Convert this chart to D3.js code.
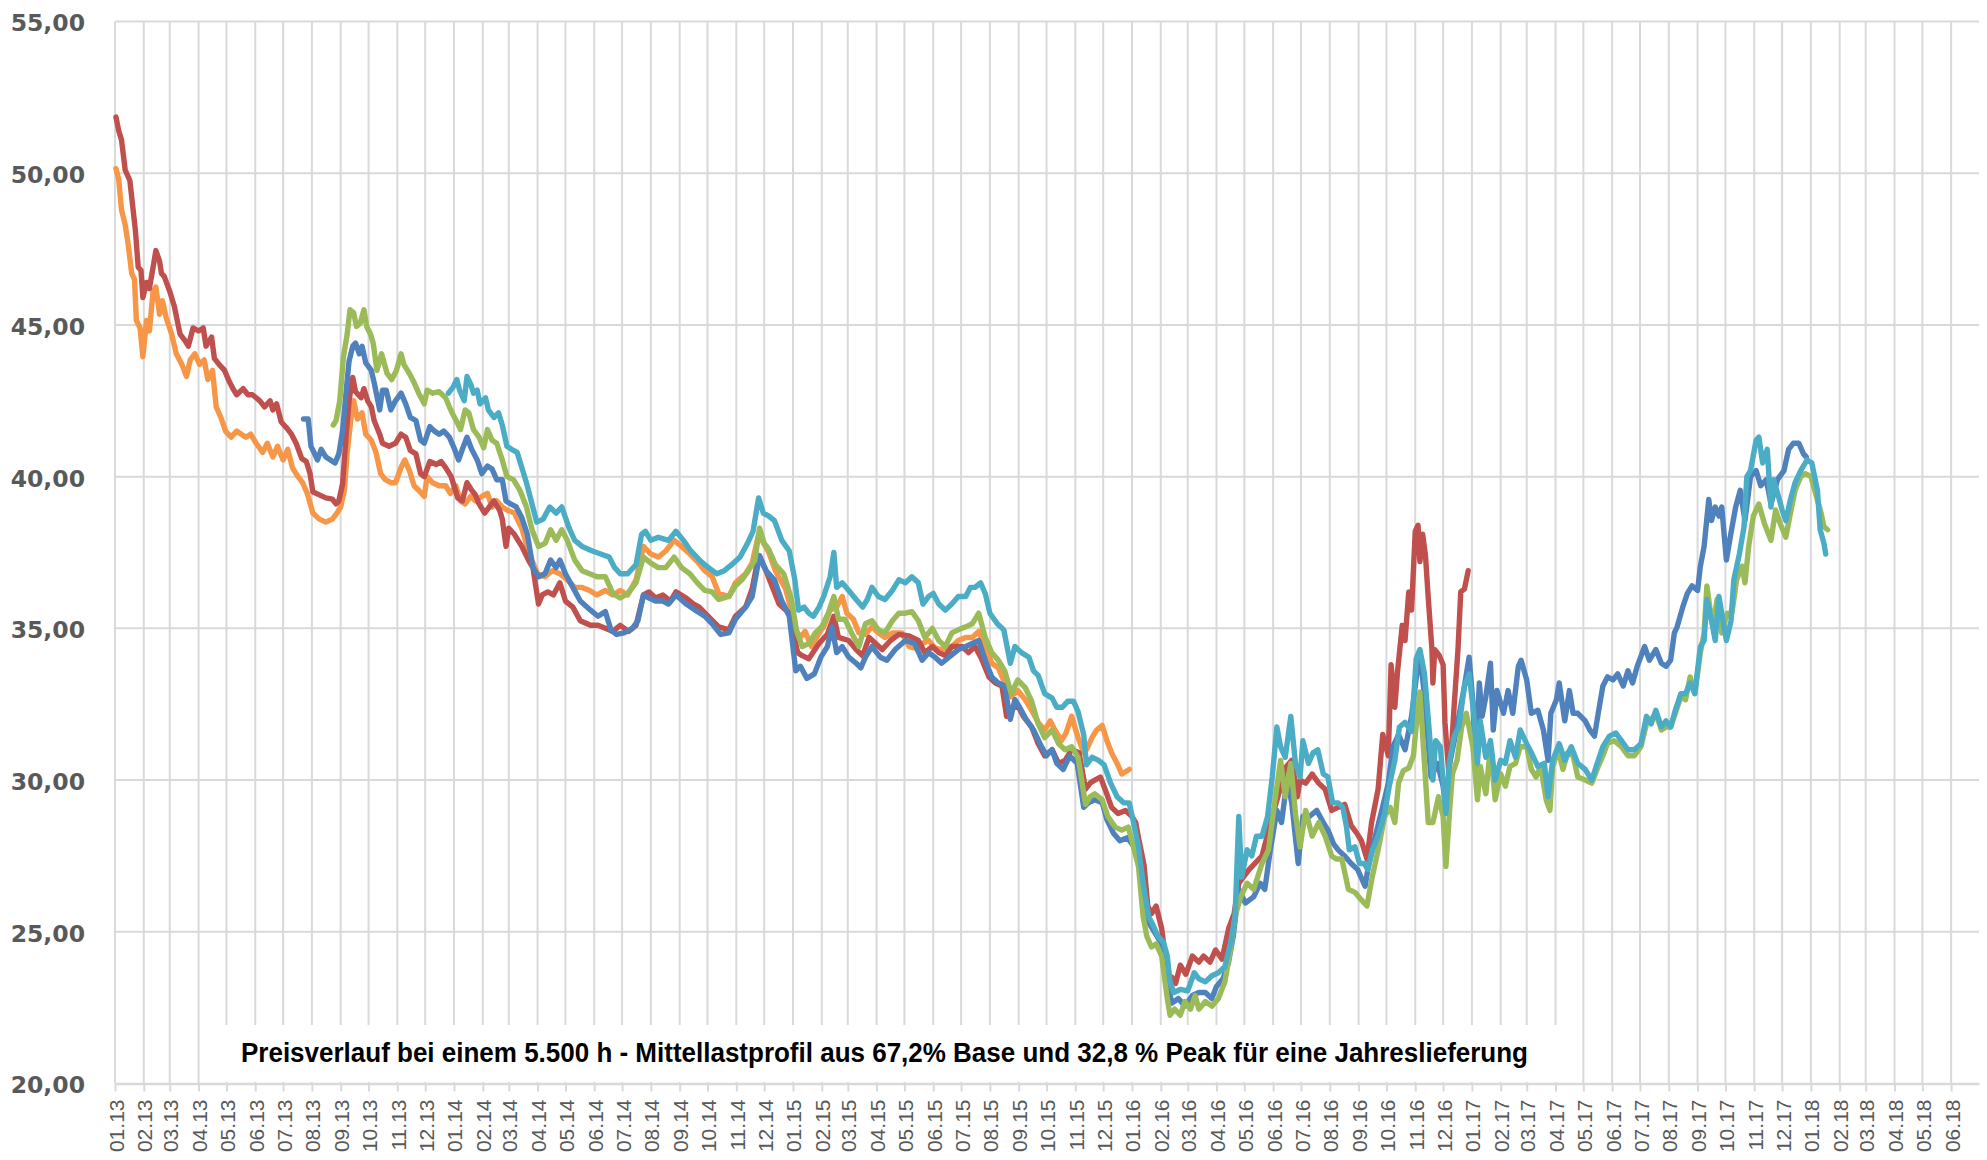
<!DOCTYPE html>
<html>
<head>
<meta charset="utf-8">
<script src="https://cdn.jsdelivr.net/npm/d3@7"></script>
<style>
    body { margin: 0; background: #fff; }
</style>
</head>
<body>
<script>
//y axis ticks
var yTicks = [20, 25, 30, 35, 40, 45, 50, 55];

//first and last month label of the x axis
var firstMonth = "2013-01-01",
    lastMonth = "2018-06-01",
    axisEnd = "2018-07-01";

var chartTitle = "Preisverlauf bei einem 5.500 h - Mittellastprofil aus 67,2% Base und 32,8 % Peak für eine Jahreslieferung";

//orange series
var orangeData = [
    ["2013-01-02",50.15],["2013-01-05",49.8],["2013-01-08",48.8],["2013-01-12",48.3],["2013-01-15",47.7],["2013-01-19",46.7],
    ["2013-01-22",46.5],["2013-01-24",45.15],["2013-01-28",44.9],["2013-01-31",43.95],["2013-02-04",45.15],["2013-02-07",44.8],
    ["2013-02-11",46.1],["2013-02-14",46.25],["2013-02-18",45.35],["2013-02-21",45.8],["2013-02-25",45.25],["2013-03-03",44.7],
    ["2013-03-08",44.05],["2013-03-14",43.7],["2013-03-19",43.3],["2013-03-23",43.85],["2013-03-28",44.05],["2013-04-02",43.7],
    ["2013-04-07",43.85],["2013-04-11",43.2],["2013-04-16",43.5],["2013-04-20",42.3],["2013-04-25",41.95],["2013-04-30",41.5],
    ["2013-05-06",41.3],["2013-05-12",41.5],["2013-05-17",41.4],["2013-05-22",41.3],["2013-05-27",41.4],["2013-06-02",41.1],
    ["2013-06-09",40.8],["2013-06-14",41.1],["2013-06-20",40.65],["2013-06-25",41.0],["2013-07-01",40.55],["2013-07-06",40.9],
    ["2013-07-11",40.3],["2013-07-17",40.0],["2013-07-22",39.8],["2013-07-27",39.45],["2013-08-02",38.8],["2013-08-09",38.6],
    ["2013-08-16",38.5],["2013-08-23",38.6],["2013-08-28",38.8],["2013-09-01",39.0],["2013-09-05",39.55],["2013-09-08",40.8],
    ["2013-09-12",41.9],["2013-09-15",42.5],["2013-09-19",41.9],["2013-09-24",42.1],["2013-09-28",41.4],["2013-10-04",41.2],
    ["2013-10-09",40.8],["2013-10-14",40.1],["2013-10-19",39.9],["2013-10-25",39.8],["2013-10-30",39.8],["2013-11-05",40.3],
    ["2013-11-09",40.55],["2013-11-14",40.2],["2013-11-19",39.7],["2013-11-24",39.55],["2013-11-30",39.35],["2013-12-03",40.0],
    ["2013-12-09",39.8],["2013-12-16",39.7],["2013-12-23",39.7],["2013-12-28",39.45],["2014-01-03",39.7],["2014-01-08",39.2],
    ["2014-01-13",39.1],["2014-01-19",39.35],["2014-01-24",39.2],["2014-01-31",39.35],["2014-02-06",39.45],["2014-02-11",39.0],
    ["2014-02-16",39.2],["2014-02-22",39.0],["2014-02-27",38.9],["2014-03-07",38.8],["2014-03-15",38.3],["2014-03-23",37.45],
    ["2014-04-01",36.8],["2014-04-09",36.7],["2014-04-17",36.9],["2014-04-25",36.8],["2014-05-03",36.6],["2014-05-11",36.35],
    ["2014-05-19",36.35],["2014-05-27",36.25],["2014-06-04",36.1],["2014-06-13",36.25],["2014-06-21",36.1],["2014-06-29",36.25],
    ["2014-07-07",36.1],["2014-07-16",36.6],["2014-07-24",37.7],["2014-08-01",37.45],["2014-08-09",37.35],["2014-08-17",37.55],
    ["2014-08-26",37.9],["2014-09-03",37.7],["2014-09-12",37.45],["2014-09-20",37.2],["2014-09-28",36.9],["2014-10-06",36.7],
    ["2014-10-13",36.15],["2014-10-24",36.05],["2014-10-31",36.5],["2014-11-11",36.8],["2014-11-18",37.15],["2014-11-25",38.1],
    ["2014-12-06",37.5],["2014-12-13",36.9],["2014-12-24",36.3],["2014-12-31",35.5],["2015-01-04",34.95],["2015-01-09",34.7],
    ["2015-01-14",34.9],["2015-01-21",34.4],["2015-01-29",34.85],["2015-02-03",35.05],["2015-02-10",35.6],["2015-02-17",35.7],
    ["2015-02-23",36.05],["2015-02-28",35.5],["2015-03-07",35.3],["2015-03-13",34.85],["2015-03-20",34.8],["2015-03-27",35.05],
    ["2015-04-03",34.85],["2015-04-10",34.7],["2015-04-18",34.85],["2015-04-28",34.85],["2015-05-06",34.4],["2015-05-13",34.35],
    ["2015-05-20",34.5],["2015-05-27",34.6],["2015-06-03",34.35],["2015-06-10",34.3],["2015-06-21",34.4],["2015-06-28",34.6],
    ["2015-07-06",34.7],["2015-07-13",34.7],["2015-07-20",34.9],["2015-07-27",34.4],["2015-08-03",33.85],["2015-08-10",33.7],
    ["2015-08-17",33.2],["2015-08-24",32.75],["2015-08-31",32.95],["2015-09-08",32.65],["2015-09-15",32.3],["2015-09-22",31.9],
    ["2015-09-29",31.65],["2015-10-05",31.95],["2015-10-10",31.65],["2015-10-17",31.3],["2015-10-22",31.55],["2015-10-28",32.1],
    ["2015-11-04",31.4],["2015-11-10",30.9],["2015-11-13",31.0],["2015-11-19",31.4],["2015-11-24",31.65],["2015-11-30",31.8],
    ["2015-12-05",31.3],["2015-12-10",30.9],["2015-12-16",30.55],["2015-12-21",30.2],["2015-12-29",30.35]
];

//red series
var redData = [
    ["2013-01-02",51.85],["2013-01-05",51.4],["2013-01-08",51.1],["2013-01-12",50.1],["2013-01-17",49.76],["2013-01-21",48.66],
    ["2013-01-23",48.1],["2013-01-26",46.9],["2013-01-29",46.8],["2013-01-31",45.9],["2013-02-04",46.4],["2013-02-07",46.2],
    ["2013-02-11",46.9],["2013-02-14",47.45],["2013-02-18",47.1],["2013-02-20",46.7],["2013-02-23",46.6],["2013-03-01",46.1],
    ["2013-03-06",45.6],["2013-03-12",44.7],["2013-03-17",44.5],["2013-03-21",44.3],["2013-03-26",44.9],["2013-04-01",44.8],
    ["2013-04-06",44.9],["2013-04-09",44.3],["2013-04-15",44.6],["2013-04-18",43.9],["2013-04-23",43.7],["2013-04-29",43.5],
    ["2013-05-03",43.2],["2013-05-08",42.9],["2013-05-12",42.7],["2013-05-19",42.9],["2013-05-24",42.7],["2013-05-29",42.7],
    ["2013-06-06",42.5],["2013-06-11",42.3],["2013-06-17",42.5],["2013-06-20",42.2],["2013-06-24",42.4],["2013-06-29",41.8],
    ["2013-07-05",41.6],["2013-07-10",41.4],["2013-07-15",41.1],["2013-07-21",40.6],["2013-07-26",40.5],["2013-07-30",40.1],
    ["2013-08-02",39.5],["2013-08-09",39.4],["2013-08-16",39.3],["2013-08-23",39.26],["2013-08-27",39.1],["2013-08-30",39.2],
    ["2013-09-03",39.76],["2013-09-07",41.4],["2013-09-10",42.5],["2013-09-14",43.27],["2013-09-17",42.8],["2013-09-23",42.6],
    ["2013-09-26",42.9],["2013-09-30",42.5],["2013-10-04",42.3],["2013-10-07",41.85],["2013-10-13",41.4],["2013-10-16",41.1],
    ["2013-10-23",41.0],["2013-10-30",41.1],["2013-11-05",41.4],["2013-11-10",41.3],["2013-11-15",40.86],["2013-11-21",40.75],
    ["2013-11-26",40.1],["2013-11-30",40.0],["2013-12-06",40.5],["2013-12-13",40.4],["2013-12-18",40.5],["2013-12-23",40.3],
    ["2013-12-29",40.0],["2014-01-05",39.3],["2014-01-10",39.2],["2014-01-15",39.8],["2014-01-19",39.6],["2014-01-24",39.4],
    ["2014-01-28",39.1],["2014-02-03",38.8],["2014-02-08",39.0],["2014-02-13",39.2],["2014-02-19",38.9],["2014-02-22",38.6],
    ["2014-02-26",37.7],["2014-03-01",38.3],["2014-03-07",38.1],["2014-03-15",37.7],["2014-03-23",37.2],["2014-03-27",37.0],
    ["2014-04-02",35.8],["2014-04-06",36.1],["2014-04-12",36.2],["2014-04-18",36.1],["2014-04-25",36.5],["2014-05-01",35.9],
    ["2014-05-09",35.7],["2014-05-17",35.25],["2014-05-28",35.1],["2014-06-05",35.1],["2014-06-13",35.0],["2014-06-21",34.9],
    ["2014-06-29",35.1],["2014-07-08",34.9],["2014-07-16",35.1],["2014-07-24",36.1],["2014-07-30",36.2],["2014-08-06",36.0],
    ["2014-08-14",36.1],["2014-08-22",35.9],["2014-08-28",36.2],["2014-09-08",36.0],["2014-09-16",35.8],["2014-09-22",35.7],
    ["2014-10-13",35.05],["2014-10-24",34.95],["2014-10-31",35.4],["2014-11-11",35.7],["2014-11-18",36.3],["2014-11-25",37.4],
    ["2014-12-03",36.9],["2014-12-17",35.8],["2014-12-28",35.5],["2015-01-06",34.2],["2015-01-11",34.1],["2015-01-18",34.0],
    ["2015-01-29",34.5],["2015-02-07",34.8],["2015-02-14",35.4],["2015-02-19",34.7],["2015-03-02",34.6],["2015-03-10",34.3],
    ["2015-03-17",34.1],["2015-03-24",34.7],["2015-04-07",34.3],["2015-04-16",34.6],["2015-04-25",34.8],["2015-05-06",34.75],
    ["2015-05-16",34.6],["2015-05-23",34.2],["2015-05-31",34.4],["2015-06-07",34.2],["2015-06-14",34.1],["2015-06-21",34.4],
    ["2015-07-02",34.4],["2015-07-09",34.2],["2015-07-16",34.4],["2015-07-23",34.0],["2015-07-31",33.4],["2015-08-07",33.2],
    ["2015-08-14",33.1],["2015-08-19",32.1],["2015-08-25",32.4],["2015-09-01",32.4],["2015-09-06",32.1],["2015-09-15",31.75],
    ["2015-09-22",31.2],["2015-09-29",30.8],["2015-10-07",31.0],["2015-10-14",30.55],["2015-10-21",30.65],["2015-10-28",31.0],
    ["2015-11-05",30.9],["2015-11-12",29.7],["2015-11-17",29.9],["2015-11-22",30.0],["2015-11-28",30.1],["2015-12-03",29.7],
    ["2015-12-10",29.1],["2015-12-17",28.9],["2015-12-25",29.0],["2016-01-01",28.8],["2016-01-05",28.6],["2016-01-08",28.1],
    ["2016-01-14",27.2],["2016-01-18",25.85],["2016-01-22",25.6],["2016-01-27",25.85],["2016-02-02",25.1],["2016-02-05",24.4],
    ["2016-02-09",23.4],["2016-02-13",23.5],["2016-02-17",23.3],["2016-02-22",23.9],["2016-02-28",23.6],["2016-03-06",24.2],
    ["2016-03-13",24.0],["2016-03-18",24.2],["2016-03-25",24.0],["2016-03-31",24.4],["2016-04-07",24.1],["2016-04-14",25.1],
    ["2016-04-20",25.6],["2016-04-25",26.6],["2016-05-06",27.05],["2016-05-20",27.5],["2016-05-31",28.8],["2016-06-07",29.55],
    ["2016-06-14",30.4],["2016-06-21",30.65],["2016-06-27",29.45],["2016-06-30",30.0],["2016-07-06",29.9],["2016-07-13",30.2],
    ["2016-07-20",29.9],["2016-07-27",29.7],["2016-08-03",29.0],["2016-08-10",29.1],["2016-08-17",29.2],["2016-08-24",28.5],
    ["2016-08-30",28.25],["2016-09-04",28.0],["2016-09-10",27.4],["2016-09-15",28.6],["2016-09-22",29.7],["2016-09-27",31.5],
    ["2016-10-03",30.8],["2016-10-06",33.8],["2016-10-10",32.4],["2016-10-13",33.6],["2016-10-18",35.1],["2016-10-21",34.6],
    ["2016-10-25",36.2],["2016-10-28",35.6],["2016-11-01",38.2],["2016-11-04",38.4],["2016-11-06",37.2],["2016-11-09",38.1],
    ["2016-11-12",37.4],["2016-11-15",36.0],["2016-11-19",34.3],["2016-11-20",33.2],["2016-11-22",34.3],["2016-11-27",34.1],
    ["2016-12-01",33.8],["2016-12-03",31.9],["2016-12-07",30.3],["2016-12-10",31.0],["2016-12-13",32.5],["2016-12-17",34.3],
    ["2016-12-20",36.2],["2016-12-24",36.3],["2016-12-28",36.9]
];

//blue series
var blueData = [
    ["2013-07-23",41.9],["2013-07-28",41.9],["2013-07-31",41.0],["2013-08-04",40.75],["2013-08-07",40.55],["2013-08-11",40.9],
    ["2013-08-16",40.65],["2013-08-21",40.55],["2013-08-26",40.45],["2013-08-30",40.75],["2013-09-03",41.5],["2013-09-07",42.85],
    ["2013-09-10",43.8],["2013-09-14",44.3],["2013-09-17",44.4],["2013-09-21",44.05],["2013-09-24",44.3],["2013-09-28",43.75],
    ["2013-10-04",43.5],["2013-10-07",43.1],["2013-10-13",42.2],["2013-10-16",42.85],["2013-10-20",42.85],["2013-10-25",42.2],
    ["2013-10-30",42.5],["2013-11-05",42.75],["2013-11-10",42.4],["2013-11-15",41.95],["2013-11-21",41.85],["2013-11-26",41.2],
    ["2013-11-30",41.1],["2013-12-06",41.65],["2013-12-11",41.5],["2013-12-16",41.4],["2013-12-21",41.5],["2013-12-27",41.3],
    ["2014-01-01",40.95],["2014-01-06",40.55],["2014-01-10",40.9],["2014-01-15",41.3],["2014-01-20",40.9],["2014-01-26",40.55],
    ["2014-01-31",40.1],["2014-02-06",40.35],["2014-02-11",40.25],["2014-02-16",39.9],["2014-02-22",39.9],["2014-02-26",39.2],
    ["2014-03-03",39.1],["2014-03-09",39.0],["2014-03-15",38.65],["2014-03-21",38.1],["2014-03-27",37.0],["2014-04-02",36.7],
    ["2014-04-09",36.8],["2014-04-15",37.25],["2014-04-21",37.0],["2014-04-25",37.25],["2014-05-01",36.8],["2014-05-09",36.35],
    ["2014-05-17",35.9],["2014-05-28",35.6],["2014-06-05",35.4],["2014-06-13",35.55],["2014-06-19",34.95],["2014-06-25",34.8],
    ["2014-07-03",34.85],["2014-07-12",35.0],["2014-07-18",35.25],["2014-07-24",36.1],["2014-07-30",36.0],["2014-08-06",35.9],
    ["2014-08-14",35.9],["2014-08-20",35.8],["2014-08-28",36.1],["2014-09-08",35.8],["2014-09-18",35.6],["2014-09-28",35.4],
    ["2014-10-06",35.15],["2014-10-15",34.8],["2014-10-24",34.85],["2014-10-31",35.3],["2014-11-11",35.7],["2014-11-18",36.05],
    ["2014-11-26",37.4],["2014-12-03",36.9],["2014-12-12",36.6],["2014-12-20",35.9],["2014-12-28",35.4],["2015-01-04",33.6],
    ["2015-01-09",33.75],["2015-01-16",33.35],["2015-01-24",33.5],["2015-01-31",34.05],["2015-02-07",34.4],["2015-02-12",35.05],
    ["2015-02-17",34.2],["2015-02-23",34.4],["2015-03-02",34.05],["2015-03-10",33.85],["2015-03-15",33.7],["2015-03-20",34.05],
    ["2015-03-27",34.4],["2015-04-05",34.05],["2015-04-12",33.95],["2015-04-21",34.3],["2015-05-02",34.6],["2015-05-12",34.5],
    ["2015-05-20",33.95],["2015-05-27",34.2],["2015-06-03",34.05],["2015-06-10",33.85],["2015-06-18",34.05],["2015-06-28",34.3],
    ["2015-07-06",34.4],["2015-07-13",34.5],["2015-07-20",34.6],["2015-07-27",33.95],["2015-08-03",33.4],["2015-08-10",33.2],
    ["2015-08-17",33.1],["2015-08-23",32.0],["2015-08-28",32.65],["2015-09-02",32.4],["2015-09-09",32.0],["2015-09-17",31.65],
    ["2015-09-24",31.2],["2015-10-01",30.8],["2015-10-07",31.0],["2015-10-12",30.55],["2015-10-19",30.35],["2015-10-26",30.8],
    ["2015-11-03",30.55],["2015-11-10",29.1],["2015-11-15",29.25],["2015-11-22",29.35],["2015-11-30",29.25],["2015-12-05",28.7],
    ["2015-12-12",28.25],["2015-12-19",28.0],["2015-12-27",28.1],["2016-01-01",27.9],["2016-01-08",27.5],["2016-01-13",26.6],
    ["2016-01-19",25.3],["2016-01-26",24.95],["2016-02-02",24.6],["2016-02-08",23.3],["2016-02-13",22.65],["2016-02-20",22.8],
    ["2016-02-27",22.55],["2016-03-06",22.9],["2016-03-13",23.0],["2016-03-20",23.0],["2016-03-27",22.8],["2016-04-01",23.2],
    ["2016-04-08",23.45],["2016-04-14",24.0],["2016-04-19",24.85],["2016-04-25",26.4],["2016-05-02",25.95],["2016-05-11",26.15],
    ["2016-05-18",26.6],["2016-05-23",26.4],["2016-05-29",27.7],["2016-06-05",29.0],["2016-06-10",28.6],["2016-06-16",30.0],
    ["2016-06-21",29.25],["2016-06-28",27.25],["2016-07-03",28.8],["2016-07-10",28.8],["2016-07-18",29.0],["2016-07-25",28.6],
    ["2016-07-30",28.35],["2016-08-05",27.9],["2016-08-10",27.7],["2016-08-17",27.5],["2016-08-24",27.25],["2016-08-31",27.05],
    ["2016-09-08",26.5],["2016-09-12",27.25],["2016-09-19",28.15],["2016-09-26",29.0],["2016-10-03",29.9],["2016-10-08",31.1],
    ["2016-10-14",31.5],["2016-10-21",31.0],["2016-10-28",32.1],["2016-11-03",33.6],["2016-11-06",34.2],["2016-11-11",32.75],
    ["2016-11-15",31.2],["2016-11-18",30.1],["2016-11-25",30.55],["2016-12-01",29.8],["2016-12-04",29.0],["2016-12-08",30.55],
    ["2016-12-13",31.3],["2016-12-18",32.1],["2016-12-24",33.1],["2016-12-29",34.05],["2017-01-02",32.6],["2017-01-05",30.45],
    ["2017-01-09",33.2],["2017-01-12",32.1],["2017-01-16",32.75],["2017-01-21",33.85],["2017-01-24",31.65],["2017-01-28",32.95],
    ["2017-02-04",32.2],["2017-02-09",32.95],["2017-02-14",32.2],["2017-02-20",33.75],["2017-02-23",33.95],["2017-03-01",33.3],
    ["2017-03-06",32.2],["2017-03-13",32.3],["2017-03-19",31.65],["2017-03-24",30.65],["2017-03-27",32.2],["2017-04-02",32.65],
    ["2017-04-05",33.2],["2017-04-11",31.95],["2017-04-16",32.95],["2017-04-20",32.2],["2017-04-25",32.2],["2017-05-03",31.95],
    ["2017-05-08",31.65],["2017-05-13",31.45],["2017-05-17",32.2],["2017-05-22",33.1],["2017-05-27",33.4],["2017-06-02",33.3],
    ["2017-06-07",33.5],["2017-06-13",33.1],["2017-06-18",33.6],["2017-06-23",33.2],["2017-06-28",33.75],["2017-07-06",34.4],
    ["2017-07-11",33.95],["2017-07-18",34.3],["2017-07-24",33.85],["2017-07-29",33.75],["2017-08-03",33.95],["2017-08-07",34.85],
    ["2017-08-10",35.05],["2017-08-16",35.7],["2017-08-21",36.15],["2017-08-26",36.4],["2017-09-01",36.25],["2017-09-04",37.05],
    ["2017-09-08",37.7],["2017-09-13",39.25],["2017-09-16",38.55],["2017-09-20",39.0],["2017-09-24",38.7],["2017-09-27",39.0],
    ["2017-10-02",37.25],["2017-10-07",38.15],["2017-10-12",39.0],["2017-10-17",39.55],["2017-10-22",38.55],["2017-10-28",40.0],
    ["2017-11-03",40.2],["2017-11-08",39.7],["2017-11-14",39.9],["2017-11-19",39.1],["2017-11-26",39.9],["2017-12-03",40.2],
    ["2017-12-08",40.9],["2017-12-13",41.1],["2017-12-19",41.1],["2017-12-24",40.75],["2017-12-27",40.65]
];

//green series
var greenData = [
    ["2013-08-24",41.7],["2013-08-27",41.85],["2013-08-31",42.5],["2013-09-04",43.95],["2013-09-08",44.7],["2013-09-11",45.5],
    ["2013-09-15",45.4],["2013-09-18",44.95],["2013-09-22",45.05],["2013-09-26",45.5],["2013-09-29",44.95],["2013-10-03",44.7],
    ["2013-10-06",44.4],["2013-10-10",43.5],["2013-10-15",44.05],["2013-10-21",43.4],["2013-10-26",43.2],["2013-10-31",43.5],
    ["2013-11-05",44.05],["2013-11-08",43.7],["2013-11-14",43.4],["2013-11-19",43.1],["2013-11-24",42.75],["2013-11-30",42.4],
    ["2013-12-03",42.85],["2013-12-09",42.75],["2013-12-16",42.8],["2013-12-23",42.6],["2013-12-27",42.3],["2013-12-30",42.1],
    ["2014-01-05",41.75],["2014-01-08",41.55],["2014-01-13",42.2],["2014-01-17",42.1],["2014-01-22",41.55],["2014-01-28",41.3],
    ["2014-02-02",40.95],["2014-02-06",41.55],["2014-02-11",41.2],["2014-02-16",41.1],["2014-02-22",40.55],["2014-02-27",40.0],
    ["2014-03-06",39.9],["2014-03-13",39.55],["2014-03-20",39.0],["2014-03-26",38.25],["2014-04-02",37.7],["2014-04-09",37.8],
    ["2014-04-15",38.25],["2014-04-21",37.9],["2014-04-27",38.25],["2014-05-03",37.9],["2014-05-11",37.25],["2014-05-19",36.9],
    ["2014-05-27",36.8],["2014-06-04",36.7],["2014-06-13",36.7],["2014-06-21",36.15],["2014-06-29",36.0],["2014-07-07",36.15],
    ["2014-07-16",36.5],["2014-07-24",37.35],["2014-08-01",37.15],["2014-08-09",37.0],["2014-08-17",37.0],["2014-08-26",37.35],
    ["2014-09-03",37.0],["2014-09-12",36.8],["2014-09-20",36.5],["2014-09-28",36.25],["2014-10-06",36.2],["2014-10-13",35.95],
    ["2014-10-24",36.05],["2014-10-31",36.4],["2014-11-07",36.6],["2014-11-14",36.9],["2014-11-21",37.25],["2014-11-26",38.3],
    ["2014-12-01",37.8],["2014-12-06",37.6],["2014-12-13",37.1],["2014-12-22",36.8],["2014-12-30",36.0],["2015-01-05",34.9],
    ["2015-01-11",34.4],["2015-01-18",34.5],["2015-01-25",34.85],["2015-02-01",35.05],["2015-02-08",35.5],["2015-02-14",36.05],
    ["2015-02-19",35.3],["2015-02-26",35.3],["2015-03-05",34.85],["2015-03-13",34.4],["2015-03-20",35.15],["2015-03-27",35.25],
    ["2015-04-03",34.95],["2015-04-10",34.85],["2015-04-18",35.25],["2015-04-25",35.5],["2015-05-02",35.5],["2015-05-09",35.55],
    ["2015-05-16",35.25],["2015-05-23",34.7],["2015-05-31",35.0],["2015-06-07",34.6],["2015-06-14",34.4],["2015-06-21",34.85],
    ["2015-06-28",34.95],["2015-07-06",35.05],["2015-07-13",35.15],["2015-07-20",35.5],["2015-07-27",34.7],["2015-08-03",34.2],
    ["2015-08-10",33.95],["2015-08-17",33.6],["2015-08-24",32.85],["2015-08-31",33.3],["2015-09-08",33.05],["2015-09-15",32.6],
    ["2015-09-22",31.85],["2015-09-29",31.4],["2015-10-07",31.65],["2015-10-14",31.2],["2015-10-21",31.0],["2015-10-28",31.1],
    ["2015-11-04",30.75],["2015-11-12",29.2],["2015-11-17",29.45],["2015-11-22",29.55],["2015-11-30",29.35],["2015-12-06",28.8],
    ["2015-12-14",28.45],["2015-12-21",28.35],["2015-12-28",28.45],["2016-01-01",28.0],["2016-01-08",27.15],["2016-01-13",25.5],
    ["2016-01-17",24.85],["2016-01-22",24.5],["2016-01-27",24.6],["2016-02-02",24.2],["2016-02-08",22.8],["2016-02-11",22.25],
    ["2016-02-16",22.45],["2016-02-22",22.25],["2016-02-27",22.7],["2016-03-04",22.45],["2016-03-09",22.9],["2016-03-13",22.45],
    ["2016-03-20",22.7],["2016-03-27",22.55],["2016-04-03",22.8],["2016-04-10",23.35],["2016-04-16",24.4],["2016-04-21",25.5],
    ["2016-04-27",26.15],["2016-05-04",26.6],["2016-05-11",26.4],["2016-05-20",27.25],["2016-05-27",27.7],["2016-06-03",29.35],
    ["2016-06-09",30.65],["2016-06-14",29.45],["2016-06-20",30.55],["2016-06-25",28.9],["2016-06-30",27.8],["2016-07-06",29.0],
    ["2016-07-13",28.15],["2016-07-20",28.6],["2016-07-27",28.15],["2016-08-03",27.5],["2016-08-08",27.4],["2016-08-14",27.4],
    ["2016-08-21",26.4],["2016-08-28",26.3],["2016-09-04",26.05],["2016-09-10",25.85],["2016-09-15",26.7],["2016-09-22",27.7],
    ["2016-09-29",28.8],["2016-10-05",29.1],["2016-10-10",28.6],["2016-10-14",29.9],["2016-10-19",30.3],["2016-10-25",30.4],
    ["2016-10-30",30.8],["2016-11-03",32.1],["2016-11-06",32.9],["2016-11-10",31.0],["2016-11-15",28.6],["2016-11-20",28.6],
    ["2016-11-26",29.45],["2016-12-01",28.8],["2016-12-04",27.15],["2016-12-08",29.0],["2016-12-11",30.2],["2016-12-16",30.65],
    ["2016-12-21",31.75],["2016-12-26",32.2],["2017-01-02",31.1],["2017-01-07",29.35],["2017-01-10",30.45],["2017-01-16",29.55],
    ["2017-01-21",31.1],["2017-01-26",29.35],["2017-02-01",30.2],["2017-02-06",29.8],["2017-02-11",30.45],["2017-02-17",30.55],
    ["2017-02-22",31.1],["2017-03-01",31.1],["2017-03-06",30.35],["2017-03-11",30.1],["2017-03-16",30.45],["2017-03-22",29.35],
    ["2017-03-26",29.0],["2017-03-29",30.45],["2017-04-04",31.0],["2017-04-09",30.35],["2017-04-14",30.9],["2017-04-20",30.8],
    ["2017-04-25",30.1],["2017-05-03",30.0],["2017-05-10",29.9],["2017-05-17",30.45],["2017-05-22",30.8],["2017-05-27",31.2],
    ["2017-06-03",31.3],["2017-06-11",31.1],["2017-06-18",30.8],["2017-06-25",30.8],["2017-07-02",31.1],["2017-07-08",31.85],
    ["2017-07-13",32.0],["2017-07-18",32.2],["2017-07-24",31.65],["2017-07-29",31.75],["2017-08-03",31.75],["2017-08-08",32.2],
    ["2017-08-14",32.75],["2017-08-19",32.65],["2017-08-24",33.4],["2017-08-29",32.85],["2017-09-04",34.2],["2017-09-08",34.85],
    ["2017-09-11",36.4],["2017-09-15",35.5],["2017-09-18",35.15],["2017-09-22",35.95],["2017-09-27",34.85],["2017-10-03",35.5],
    ["2017-10-08",35.5],["2017-10-13",36.6],["2017-10-19",37.05],["2017-10-22",36.5],["2017-10-26",37.7],["2017-10-31",38.7],
    ["2017-11-06",39.1],["2017-11-12",38.45],["2017-11-19",37.9],["2017-11-24",38.9],["2017-11-29",38.45],["2017-12-05",38.0],
    ["2017-12-10",38.8],["2017-12-15",39.55],["2017-12-21",40.0],["2017-12-26",40.1],["2018-01-01",40.0],["2018-01-06",39.45],
    ["2018-01-12",38.8],["2018-01-15",38.35],["2018-01-19",38.25]
];

//cyan series
var cyanData = [
    ["2013-12-26",42.75],["2013-12-31",42.95],["2014-01-04",43.2],["2014-01-07",42.85],["2014-01-12",42.5],["2014-01-15",43.3],
    ["2014-01-19",43.05],["2014-01-22",42.75],["2014-01-26",42.85],["2014-01-29",42.4],["2014-02-04",42.6],["2014-02-07",42.2],
    ["2014-02-13",41.95],["2014-02-18",42.1],["2014-02-22",41.7],["2014-02-27",41.0],["2014-03-04",40.9],["2014-03-10",40.8],
    ["2014-03-15",40.3],["2014-03-20",39.8],["2014-03-26",39.1],["2014-03-31",38.5],["2014-04-07",38.6],["2014-04-14",39.0],
    ["2014-04-21",38.8],["2014-04-27",39.0],["2014-05-05",38.3],["2014-05-11",37.9],["2014-05-19",37.7],["2014-05-30",37.55],
    ["2014-06-08",37.45],["2014-06-17",37.35],["2014-06-23",37.0],["2014-06-29",36.8],["2014-07-07",36.8],["2014-07-16",37.1],
    ["2014-07-22",38.1],["2014-07-26",38.2],["2014-08-01",37.9],["2014-08-09",38.0],["2014-08-20",37.9],["2014-08-28",38.2],
    ["2014-09-05",37.9],["2014-09-13",37.55],["2014-09-24",37.2],["2014-10-02",37.0],["2014-10-11",36.8],["2014-10-19",36.9],
    ["2014-10-27",37.1],["2014-11-05",37.35],["2014-11-13",37.8],["2014-11-19",38.2],["2014-11-25",39.3],["2014-11-30",38.8],
    ["2014-12-06",38.7],["2014-12-12",38.55],["2014-12-20",37.9],["2014-12-28",37.55],["2015-01-03",36.6],["2015-01-07",35.6],
    ["2015-01-13",35.7],["2015-01-18",35.5],["2015-01-23",35.4],["2015-01-29",35.7],["2015-02-03",36.05],["2015-02-10",36.7],
    ["2015-02-14",37.5],["2015-02-17",36.35],["2015-02-23",36.5],["2015-03-02",36.25],["2015-03-10",35.95],["2015-03-17",35.7],
    ["2015-03-22",35.95],["2015-03-27",36.35],["2015-04-03",36.05],["2015-04-10",35.95],["2015-04-18",36.25],["2015-04-25",36.6],
    ["2015-05-02",36.5],["2015-05-09",36.7],["2015-05-16",36.5],["2015-05-21",35.8],["2015-05-27",36.05],["2015-06-01",36.15],
    ["2015-06-07",35.8],["2015-06-14",35.6],["2015-06-21",35.8],["2015-06-28",36.05],["2015-07-06",36.05],["2015-07-11",36.35],
    ["2015-07-16",36.35],["2015-07-22",36.5],["2015-07-27",36.15],["2015-08-01",35.5],["2015-08-09",35.15],["2015-08-16",34.95],
    ["2015-08-23",33.85],["2015-08-28",34.4],["2015-09-04",34.2],["2015-09-12",34.05],["2015-09-17",33.6],["2015-09-22",33.45],
    ["2015-09-29",32.85],["2015-10-07",32.7],["2015-10-12",32.4],["2015-10-18",32.4],["2015-10-24",32.6],["2015-10-30",32.6],
    ["2015-11-04",32.25],["2015-11-10",31.5],["2015-11-13",30.5],["2015-11-19",30.75],["2015-11-26",30.65],["2015-12-02",30.5],
    ["2015-12-09",29.9],["2015-12-16",29.45],["2015-12-23",29.25],["2015-12-29",29.25],["2016-01-02",28.7],["2016-01-08",27.8],
    ["2016-01-13",26.6],["2016-01-19",25.5],["2016-01-24",25.2],["2016-01-29",24.85],["2016-02-04",24.65],["2016-02-08",24.2],
    ["2016-02-11",23.35],["2016-02-15",23.0],["2016-02-22",23.1],["2016-03-01",23.05],["2016-03-08",23.65],["2016-03-13",23.45],
    ["2016-03-20",23.35],["2016-03-27",23.55],["2016-04-03",23.65],["2016-04-10",23.85],["2016-04-16",24.6],["2016-04-21",25.5],
    ["2016-04-25",28.8],["2016-04-28",26.8],["2016-05-04",27.7],["2016-05-09",27.5],["2016-05-14",28.15],["2016-05-20",28.15],
    ["2016-05-26",28.8],["2016-05-31",30.1],["2016-06-05",31.75],["2016-06-09",31.1],["2016-06-14",30.75],["2016-06-20",32.1],
    ["2016-06-25",30.55],["2016-06-30",30.1],["2016-07-03",31.3],["2016-07-09",30.55],["2016-07-14",30.9],["2016-07-19",31.0],
    ["2016-07-25",30.2],["2016-07-30",30.1],["2016-08-04",29.25],["2016-08-10",29.25],["2016-08-15",29.1],["2016-08-19",28.45],
    ["2016-08-22",27.7],["2016-08-28",27.8],["2016-09-02",27.25],["2016-09-07",27.25],["2016-09-11",27.05],["2016-09-16",27.7],
    ["2016-09-22",28.15],["2016-09-29",28.9],["2016-10-04",29.8],["2016-10-10",30.65],["2016-10-15",31.75],["2016-10-21",31.9],
    ["2016-10-28",31.6],["2016-11-02",34.0],["2016-11-06",34.3],["2016-11-11",33.5],["2016-11-16",31.65],["2016-11-20",30.0],
    ["2016-11-23",31.3],["2016-11-28",31.1],["2016-12-04",28.9],["2016-12-08",30.65],["2016-12-13",31.45],["2016-12-18",31.75],
    ["2016-12-24",33.1],["2016-12-29",33.5],["2017-01-03",32.2],["2017-01-07",30.55],["2017-01-10",31.95],["2017-01-16",30.75],
    ["2017-01-21",31.3],["2017-01-26",30.0],["2017-02-01",30.65],["2017-02-06",30.55],["2017-02-11",31.3],["2017-02-17",30.75],
    ["2017-02-22",31.65],["2017-03-01",31.2],["2017-03-06",30.9],["2017-03-13",30.45],["2017-03-20",30.55],["2017-03-24",29.45],
    ["2017-03-29",30.65],["2017-04-05",31.2],["2017-04-11",30.65],["2017-04-18",31.1],["2017-04-25",30.55],["2017-05-03",30.35],
    ["2017-05-10",30.0],["2017-05-17",30.65],["2017-05-22",31.1],["2017-05-29",31.45],["2017-06-05",31.55],["2017-06-11",31.3],
    ["2017-06-18",31.0],["2017-06-25",31.0],["2017-07-02",31.2],["2017-07-08",32.1],["2017-07-13",31.85],["2017-07-18",32.3],
    ["2017-07-24",31.75],["2017-07-29",31.95],["2017-08-03",31.75],["2017-08-08",32.3],["2017-08-14",32.85],["2017-08-19",32.85],
    ["2017-08-24",33.2],["2017-08-29",32.85],["2017-09-04",34.4],["2017-09-08",34.6],["2017-09-11",35.95],["2017-09-16",35.25],
    ["2017-09-20",34.6],["2017-09-24",36.05],["2017-09-27",35.5],["2017-10-02",34.6],["2017-10-07",35.25],["2017-10-10",36.6],
    ["2017-10-16",37.45],["2017-10-21",38.35],["2017-10-24",40.0],["2017-10-28",40.2],["2017-11-03",41.2],["2017-11-06",41.3],
    ["2017-11-10",40.45],["2017-11-15",40.9],["2017-11-19",39.0],["2017-11-22",39.9],["2017-11-28",39.25],["2017-12-01",38.9],
    ["2017-12-05",38.55],["2017-12-10",39.25],["2017-12-15",39.8],["2017-12-21",40.2],["2017-12-28",40.55],["2018-01-02",40.45],
    ["2018-01-08",39.55],["2018-01-11",38.25],["2018-01-15",37.8],["2018-01-17",37.45]
];

//drawing order and colours (last one on top)
var seriesList = [orangeData, redData, blueData, greenData, cyanData];
var seriesColors = ["#F79646", "#C0504D", "#4F81BD", "#9BBB59", "#4BACC6"];

(function(){

    //chart frame dimensions
    var width = 1987,
        height = 1160,
        left = 115,
        right = 1979,
        top = 21.5,
        bottom = 1083.5;

    var parseDate = d3.timeParse("%Y-%m-%d");
    var deLocale = d3.formatLocale({decimal: ",", thousands: ".", grouping: [3], currency: ["", " €"]});
    var fmtY = deLocale.format(".2f");

    var svg = d3.select("body")
        .append("svg")
        .attr("width", width)
        .attr("height", height)
        .style("background", "#fff");

    var x = d3.scaleTime()
        .domain([parseDate(firstMonth), parseDate(axisEnd)])
        .range([left, right]);

    var y = d3.scaleLinear()
        .domain([20, 55])
        .range([bottom, top]);

    var months = d3.timeMonth.range(parseDate(firstMonth), d3.timeDay.offset(parseDate(lastMonth), 1));

    //horizontal gridlines
    svg.selectAll(".hGrid")
        .data(yTicks.slice(1))
        .enter()
        .append("line")
        .attr("class", "hGrid")
        .attr("x1", left)
        .attr("x2", right)
        .attr("y1", function(d){ return y(d); })
        .attr("y2", function(d){ return y(d); })
        .style("stroke", "#d9d9d9")
        .style("stroke-width", 2);

    //vertical gridlines
    svg.selectAll(".vGrid")
        .data(months)
        .enter()
        .append("line")
        .attr("class", "vGrid")
        .attr("x1", function(d){ return x(d); })
        .attr("x2", function(d){ return x(d); })
        .attr("y1", top)
        .attr("y2", bottom)
        .style("stroke", "#d9d9d9")
        .style("stroke-width", 2);

    //white box behind the title
    svg.append("rect")
        .attr("x", 214)
        .attr("y", 1025)
        .attr("width", 1356)
        .attr("height", 57)
        .style("fill", "#fff");

    //y axis labels
    var yAxis = d3.axisLeft(y)
        .tickValues(yTicks)
        .tickSize(0)
        .tickPadding(30)
        .tickFormat(fmtY);

    var yG = svg.append("g")
        .attr("transform", "translate(" + left + ",0)")
        .call(yAxis);
    yG.select(".domain").remove();
    yG.selectAll("text")
        .attr("dy", "0.4em")
        .style("font-family", "'DejaVu Sans', Verdana, sans-serif")
        .style("font-weight", "bold")
        .style("font-size", "23.5px")
        .style("fill", "#595959");

    //x axis with month labels
    var xAxis = d3.axisBottom(x)
        .tickValues(months)
        .tickSize(8)
        .tickSizeOuter(0)
        .tickFormat(d3.timeFormat("%m.%y"));

    var xG = svg.append("g")
        .attr("transform", "translate(0," + bottom + ")")
        .call(xAxis);
    xG.select(".domain")
        .style("stroke", "#d9d9d9")
        .style("stroke-width", 2.5);
    xG.selectAll(".tick line")
        .style("stroke", "#d9d9d9")
        .style("stroke-width", 2);
    xG.selectAll("text")
        .attr("y", 0)
        .attr("dy", 0)
        .attr("transform", "translate(8,16) rotate(-90)")
        .style("text-anchor", "end")
        .style("font-family", "'Liberation Sans', Arial, sans-serif")
        .style("font-size", "21px")
        .style("fill", "#595959");

    //price lines
    var line = d3.line()
        .x(function(d){ return x(parseDate(d[0])); })
        .y(function(d){ return y(d[1]); });

    svg.selectAll(".series")
        .data(seriesList)
        .enter()
        .append("path")
        .attr("class", "series")
        .attr("d", line)
        .style("fill", "none")
        .style("stroke", function(d, i){ return seriesColors[i]; })
        .style("stroke-width", 5.4)
        .style("stroke-linejoin", "round")
        .style("stroke-linecap", "round");

    //title text inside the plot
    svg.append("text")
        .attr("x", 241)
        .attr("y", 1062)
        .attr("textLength", 1287)
        .attr("lengthAdjust", "spacingAndGlyphs")
        .style("font-family", "'Liberation Sans', Arial, sans-serif")
        .style("font-weight", "bold")
        .style("font-size", "27px")
        .style("fill", "#000")
        .text(chartTitle);

})();
</script>
</body>
</html>
